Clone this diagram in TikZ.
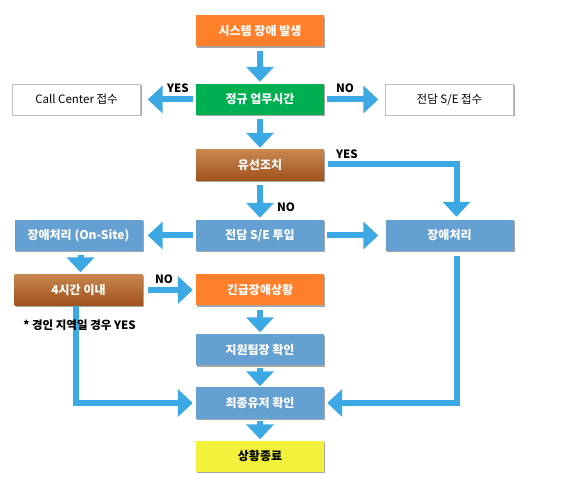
\documentclass[tikz,border=0pt]{standalone}
\usepackage{fontspec}
\setmainfont{Noto Sans CJK KR}
\usetikzlibrary{arrows.meta,shadows}
\definecolor{orangebox}{HTML}{FF7F2A}
\definecolor{greenbox}{HTML}{00B050}
\definecolor{bluebox}{HTML}{64A0D2}
\definecolor{yellowbox}{HTML}{F2F23C}
\definecolor{browntop}{HTML}{C8874F}
\definecolor{brownbot}{HTML}{A0501C}
\definecolor{arrblue}{HTML}{3CA8E4}
\tikzset{
  box/.style={minimum width=128pt, minimum height=31pt, inner sep=0pt,
    font=\fontsize{12}{14}\selectfont\bfseries, text=white,
    drop shadow={shadow xshift=1.2pt, shadow yshift=-1.5pt, fill=black!35, opacity=1}},
  orangebox/.style={box, fill=orangebox},
  greenbox/.style={box, fill=greenbox},
  bluebox/.style={box, fill=bluebox},
  brownbox/.style={box, top color=browntop, bottom color=brownbot},
  whitebox/.style={box, fill=white, draw=black!25, text=black, font=\fontsize{11.5}{14}\selectfont},
  yellowbox/.style={box, fill=yellowbox, text=black},
  arr/.style={line width=6pt, draw=arrblue, line join=miter, -{Triangle[width=27pt,length=15pt]}},
  lbl/.style={font=\fontsize{11.5}{14}\selectfont\bfseries, inner sep=0pt}
}
\begin{document}
\begin{tikzpicture}[x=1pt,y=-1pt]
\useasboundingbox[fill=white] (0,0) rectangle (587,489);
% boxes
\node[orangebox] (start) at (260,31) {시스템 장애 발생};
\node[greenbox] (regular) at (260,99.5) {정규 업무시간};
\node[whitebox] (call) at (76.5,99.5) {Call Center 접수};
\node[whitebox] (seaccept) at (449.5,99.5) {전담 S/E 접수};
\node[brownbox] (wired) at (260,165.5) {유선조치};
\node[bluebox] (seinput) at (260,235.5) {전담 S/E 투입};
\node[bluebox] (onsite) at (78.5,235.5) {장애처리 (On-Site)};
\node[bluebox] (fix) at (449.5,235.5) {장애처리};
\node[brownbox] (within) at (78.5,290) {4시간 이내};
\node[orangebox] (urgent) at (260,290) {긴급장애상황};
\node[bluebox] (leader) at (260,350) {지원팀장 확인};
\node[bluebox] (user) at (260,403) {최종유저 확인};
\node[yellowbox] (done) at (260,456) {상황종료};
% arrows
\draw[arr] ([yshift=-4pt]start.south) -- ([yshift=2pt]regular.north);
\draw[arr] ([xshift=-3pt]regular.west) -- ([xshift=7pt]call.east);
\draw[arr] ([xshift=3pt]regular.east) -- ([xshift=-7pt]seaccept.west);
\draw[arr] ([yshift=-4pt]regular.south) -- ([yshift=2pt]wired.north);
\draw[arr] ([xshift=4pt,yshift=1.5pt]wired.east) -| ([xshift=7pt,yshift=3pt]fix.north);
\draw[arr] ([yshift=-4pt]wired.south) -- ([yshift=2pt]seinput.north);
\draw[arr] ([xshift=-3pt]seinput.west) -- ([xshift=5pt]onsite.east);
\draw[arr] ([xshift=3pt]seinput.east) -- ([xshift=-7pt]fix.west);
\draw[arr] ([xshift=2pt,yshift=-4pt]onsite.south) -- ([xshift=2pt,yshift=2pt]within.north);
\draw[arr] ([xshift=5pt]within.east) -- ([xshift=-3pt]urgent.west);
\draw[arr] ([yshift=-4pt]urgent.south) -- ([yshift=2pt]leader.north);
\draw[arr] ([yshift=-2pt]leader.south) -- ([yshift=1pt]user.north);
\draw[arr] ([yshift=-2pt]user.south) -- ([yshift=1pt]done.north);
\draw[arr] ([xshift=-2.5pt]within.south) |- ([xshift=-3pt]user.west);
\draw[arr] ([xshift=7pt,yshift=-5pt]fix.south) |- ([xshift=3pt]user.east);
% labels
\node[lbl] (yes1) at (178,88) {YES};
\node[lbl] (no1) at (345,88) {NO};
\node[lbl] (yes2) at (347,154) {YES};
\node[lbl] (no2) at (286,207) {NO};
\node[lbl] (no3) at (164,279) {NO};
\node[lbl] (note) at (79.5,325) {* 경인 지역일 경우 YES};
\end{tikzpicture}
\end{document}
